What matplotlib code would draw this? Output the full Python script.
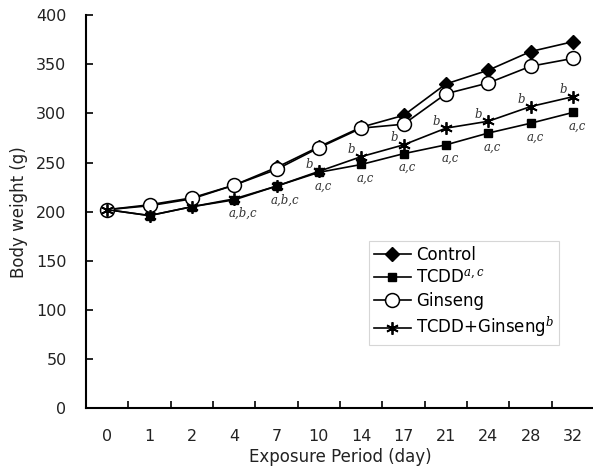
import numpy as np
import matplotlib
matplotlib.use('Agg')
import matplotlib.pyplot as plt

plt.rcParams['font.family'] = ['DejaVu Sans']
plt.rcParams['mathtext.fontset'] = 'dejavuserif'

days = ['0', '1', '2', '4', '7', '10', '14', '17', '21', '24', '28', '32']
control = [202, 206, 213, 227, 245, 266, 286, 298, 330, 344, 363, 373]
tcdd = [202, 196, 205, 212, 226, 240, 248, 259, 268, 280, 290, 301]
ginseng = [202, 207, 214, 227, 243, 265, 285, 289, 320, 331, 348, 356]
tcdd_gin = [202, 196, 205, 213, 226, 241, 256, 268, 285, 292, 307, 317]

# significance marks: indices of days carrying each label
marks_b = [5, 6, 7, 8, 9, 10, 11]
marks_ac = [5, 6, 7, 8, 9, 10, 11]
marks_abc = [3, 4]

x = np.arange(len(days))

fig = plt.figure(figsize=(5.93, 4.74), dpi=100)
ax = fig.add_axes([0.145, 0.139, 0.857, 0.829])

lw = 1.2
ax.plot(x, control, color='k', lw=lw, marker='D', ms=7, mfc='k', mec='k', label='Control')
ax.plot(x, tcdd, color='k', lw=lw, marker='s', ms=6, mfc='k', mec='k', label='TCDD$^{a,c}$')
ax.plot(x, ginseng, color='k', lw=lw, marker='o', ms=10, mfc='white', mec='k', mew=1.1, label='Ginseng')
ax.plot(x, tcdd_gin, color='k', lw=lw, marker=(6, 2, 0), ms=9, mec='k', mew=1.3,
        label='TCDD+Ginseng$^{b}$')

sty = dict(fontsize=8.5, family='DejaVu Serif', style='italic', color='#333333')
for i in marks_b:
    ax.annotate('b', (x[i], tcdd_gin[i]), xytext=(-7, 5), textcoords='offset points',
                ha='center', va='center', **sty)
for i in marks_ac:
    ax.annotate('a,c', (x[i], tcdd[i]), xytext=(3, -10), textcoords='offset points',
                ha='center', va='center', **sty)
for i in marks_abc:
    ax.annotate('a,b,c', (x[i], tcdd[i]), xytext=(6, -10), textcoords='offset points',
                ha='center', va='center', **sty)

ax.set_xlim(-0.5, len(days) - 0.5)
ax.set_ylim(0, 400)
ax.set_yticks(np.arange(0, 401, 50))
ax.set_xticks(x)
ax.set_xticklabels(days)
ax.set_xticks(np.arange(0.5, len(days) - 0.5, 1), minor=True)
ax.tick_params(axis='x', which='major', length=0, pad=15, labelsize=11.5, colors='#222222')
ax.tick_params(axis='x', which='minor', direction='in', length=5, width=1.2)
ax.tick_params(axis='y', direction='in', length=5, width=1.2, pad=14, labelsize=11.5,
               colors='#222222')
ax.tick_params(axis='both', color='k')

ax.spines['top'].set_visible(False)
ax.spines['right'].set_visible(False)
ax.spines['left'].set_linewidth(1.5)
ax.spines['bottom'].set_linewidth(1.5)

ax.set_xlabel('Exposure Period (day)', fontsize=12, color='#222222', labelpad=3)
ax.set_ylabel('Body weight (g)', fontsize=12, color='#222222', labelpad=6)

leg = ax.legend(loc='upper left', bbox_to_anchor=(0.557, 0.425), borderaxespad=0,
                fontsize=12, frameon=True, fancybox=False, edgecolor='#cccccc',
                handlelength=2.2, handletextpad=0.3, labelspacing=0.3, borderpad=0.3)
leg.get_frame().set_linewidth(0.8)

fig.savefig('out.png', dpi=100)
